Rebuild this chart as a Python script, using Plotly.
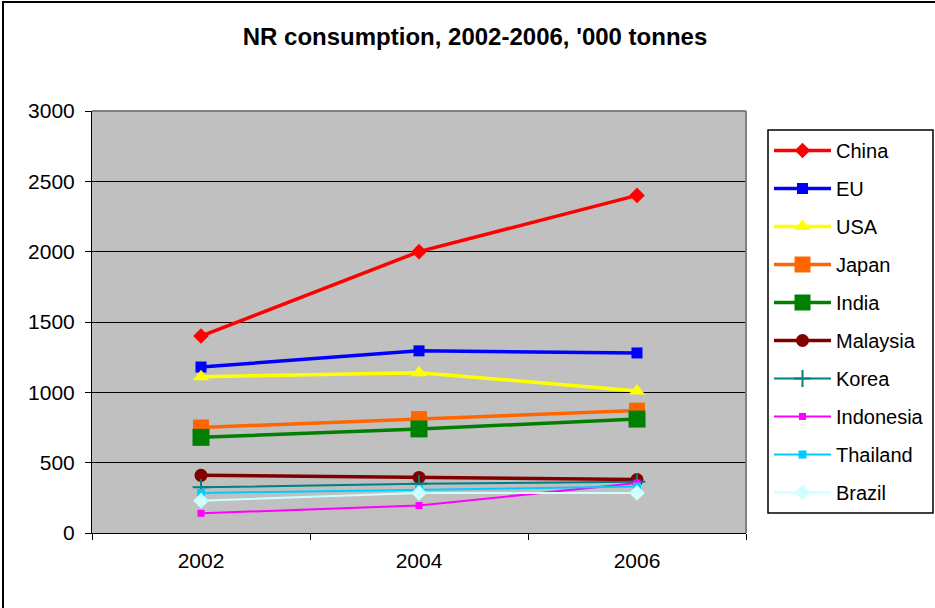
import plotly.graph_objects as go

# NR consumption by country, '000 tonnes
years = ["2002", "2004", "2006"]
countries = ["China", "EU", "USA", "Japan", "India", "Malaysia",
             "Korea", "Indonesia", "Thailand", "Brazil"]
china = [1400, 2000, 2400]
eu = [1180, 1295, 1280]
usa = [1110, 1140, 1010]
japan = [750, 810, 870]
india = [680, 740, 810]
malaysia = [410, 395, 380]
korea = [325, 350, 365]
indonesia = [140, 195, 355]
thailand = [285, 310, 330]
brazil = [230, 285, 285]

series_values = [china, eu, usa, japan, india, malaysia,
                 korea, indonesia, thailand, brazil]

colors = ["#FF0000", "#0000FF", "#FFFF00", "#FF6600", "#008000", "#800000",
          "#008080", "#FF00FF", "#00CCFF", "#CCFFFF"]
symbols = ["diamond", "square", "triangle-up", "square", "square", "circle",
           "cross-thin", "square", "square", "diamond"]
msizes = [12, 11, 14, 16, 17, 13, 12, 7, 8, 12]
lwidths = [3.5, 3.5, 3.5, 3.5, 3.5, 3.5, 2, 2, 2, 2]

fig = go.Figure()
for i, (name, vals) in enumerate(zip(countries, series_values)):
    mline = dict(width=2, color=colors[i]) if symbols[i] == "cross-thin" else dict(width=0)
    fig.add_trace(go.Scatter(
        x=years, y=vals, name=name, mode="lines+markers",
        legendgroup=name,
        line=dict(color=colors[i], width=lwidths[i]),
        marker=dict(symbol=symbols[i], size=msizes[i], color=colors[i], line=mline),
    ))

L, T, R, B = 92, 111, 746, 533
W, H = 935, 608
pw, ph = R - L, B - T


def px_x(x):
    return (x - L) / pw


def px_y(y):
    return (B - y) / ph


shapes = [
    # chart frame
    dict(type="rect", xref="paper", yref="paper",
         x0=px_x(3), x1=px_x(945), y0=px_y(618), y1=px_y(2),
         line=dict(color="black", width=2), fillcolor="rgba(0,0,0,0)", layer="below"),
    # plot area top and right edges
    dict(type="line", xref="paper", yref="paper", x0=0, x1=1, y0=1, y1=1,
         line=dict(color="#808080", width=2)),
    dict(type="line", xref="paper", yref="paper", x0=1, x1=1, y0=0, y1=1,
         line=dict(color="#808080", width=2)),
    # legend box
    dict(type="rect", xref="paper", yref="paper",
         x0=px_x(768), x1=px_x(933), y0=px_y(513), y1=px_y(130),
         line=dict(color="black", width=1.5), fillcolor="white", layer="below"),
]

fig.update_layout(
    width=W, height=H,
    margin=dict(l=L, r=W - R, t=T, b=H - B, autoexpand=False),
    paper_bgcolor="white",
    plot_bgcolor="#C0C0C0",
    font=dict(family="Liberation Sans, Arial, sans-serif", size=20, color="black"),
    title=dict(text="<b>NR consumption, 2002-2006, '000 tonnes</b>",
               x=475 / W, xref="container", xanchor="center",
               y=1 - 37 / H, yref="container", yanchor="middle",
               font=dict(size=24)),
    shapes=shapes,
    showlegend=True,
    legend=dict(x=px_x(769), xanchor="left", y=px_y(131), yanchor="top",
                bgcolor="rgba(0,0,0,0)", borderwidth=0,
                tracegroupgap=9, itemwidth=57,
                font=dict(size=20)),
    xaxis=dict(type="category", range=[-0.5, 2.5], tickson="boundaries",
               ticks="outside", ticklen=6, tickcolor="black",
               tickfont=dict(size=21), ticklabelstandoff=9,
               showline=True, linecolor="black", linewidth=1,
               showgrid=False, zeroline=False, fixedrange=True),
    yaxis=dict(range=[0, 3000], dtick=500, tick0=0,
               ticks="outside", ticklen=6, tickcolor="black",
               tickfont=dict(size=21), ticklabelstandoff=6,
               showline=True, linecolor="black", linewidth=1,
               showgrid=True, gridcolor="black", gridwidth=1,
               zeroline=False, fixedrange=True),
)

fig.write_html("out.html")
